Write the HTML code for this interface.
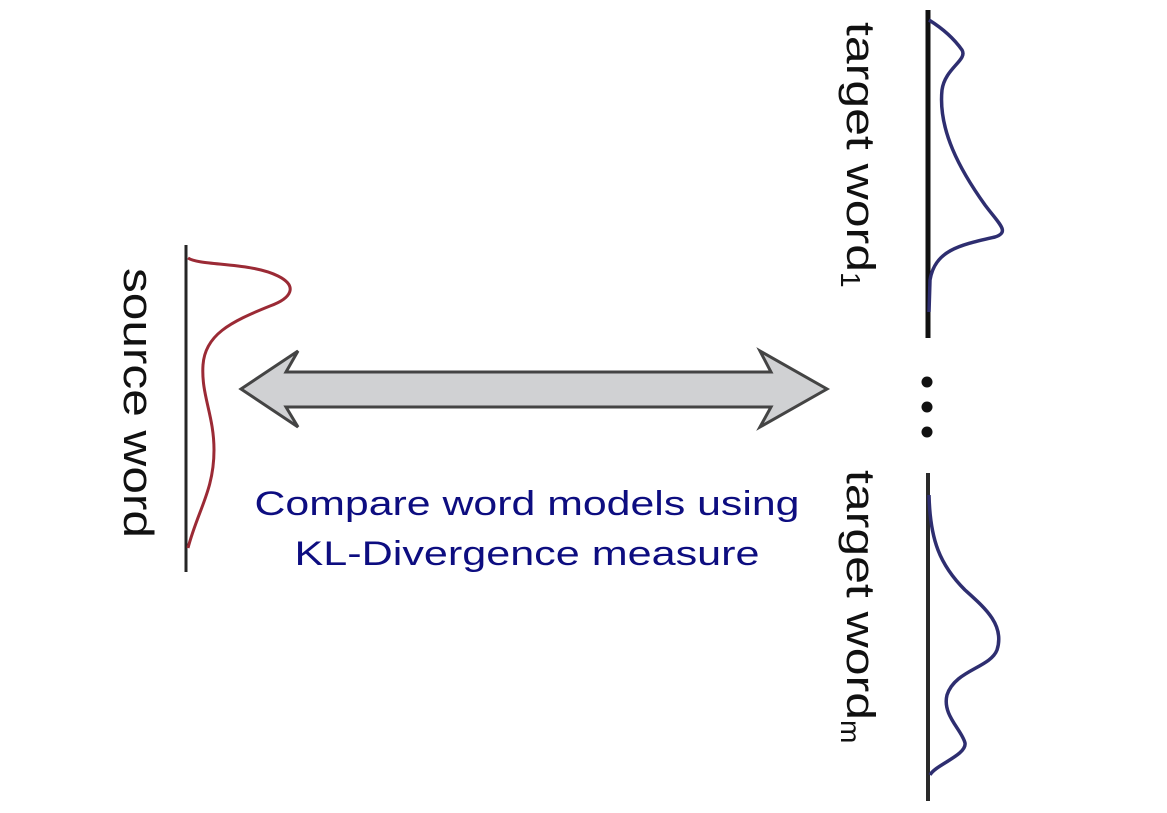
<!DOCTYPE html>
<html><head><meta charset="utf-8"><style>html,body{margin:0;padding:0;background:#fff}svg{display:block}</style></head><body>
<svg width="1167" height="813" viewBox="0 0 1167 813" xmlns="http://www.w3.org/2000/svg">
<rect width="1167" height="813" fill="#fff"/>
<!-- source axis -->
<line x1="186" y1="245" x2="186" y2="572" stroke="#262626" stroke-width="3"/>
<path d="M188,258 C200,266 250,262 278,276 C298,286 292,298 270,306 C230,322 205,335 203,365 C201,395 214,415 214,450 C214,490 198,510 188,548" fill="none" stroke="#9b2a35" stroke-width="3"/>
<text transform="translate(124,268) rotate(90)" font-family="Liberation Sans, sans-serif" font-size="42" fill="#111" textLength="270" lengthAdjust="spacingAndGlyphs">source word</text>
<!-- target1 -->
<line x1="928" y1="10" x2="928" y2="338" stroke="#111" stroke-width="5"/>
<path d="M929,20 C945,30 955,40 962,50 C968,60 945,68 942,90 C938,130 960,170 985,205 C1000,225 1010,232 995,237 C960,245 935,250 930,280 L929,312" fill="none" stroke="#2e2e70" stroke-width="3.5"/>
<text transform="translate(847,22) rotate(90)" font-family="Liberation Sans, sans-serif" font-size="40" fill="#111"><tspan textLength="250" lengthAdjust="spacingAndGlyphs">target word</tspan><tspan font-size="28" dy="6">1</tspan></text>
<!-- dots -->
<circle cx="927" cy="382" r="5.5" fill="#111"/>
<circle cx="927" cy="407" r="5.5" fill="#111"/>
<circle cx="927" cy="432" r="5.5" fill="#111"/>
<!-- target m -->
<line x1="928" y1="473" x2="928" y2="801" stroke="#2a2a2a" stroke-width="4"/>
<path d="M929,495 C930,540 940,565 965,590 C985,608 1005,625 997,650 C990,668 955,670 947,695 C942,715 962,730 965,743 C967,755 935,765 930,775" fill="none" stroke="#2e2e70" stroke-width="3.5"/>
<text transform="translate(847,470) rotate(90)" font-family="Liberation Sans, sans-serif" font-size="40" fill="#111"><tspan textLength="250" lengthAdjust="spacingAndGlyphs">target word</tspan><tspan font-size="28" dy="6">m</tspan></text>
<!-- arrow -->
<polygon points="241,389 298,351 286,372 771,372 760,351 827,389 760,427 771,407 286,407 298,427" fill="#d0d1d3" stroke="#444" stroke-width="3" stroke-linejoin="miter"/>
<!-- caption -->
<text x="527" y="515" text-anchor="middle" font-family="Liberation Sans, sans-serif" font-size="34" fill="#0d0d80" textLength="545" lengthAdjust="spacingAndGlyphs">Compare word models using</text>
<text x="527" y="565" text-anchor="middle" font-family="Liberation Sans, sans-serif" font-size="34" fill="#0d0d80" textLength="465" lengthAdjust="spacingAndGlyphs">KL-Divergence measure</text>
</svg>
</body></html>
